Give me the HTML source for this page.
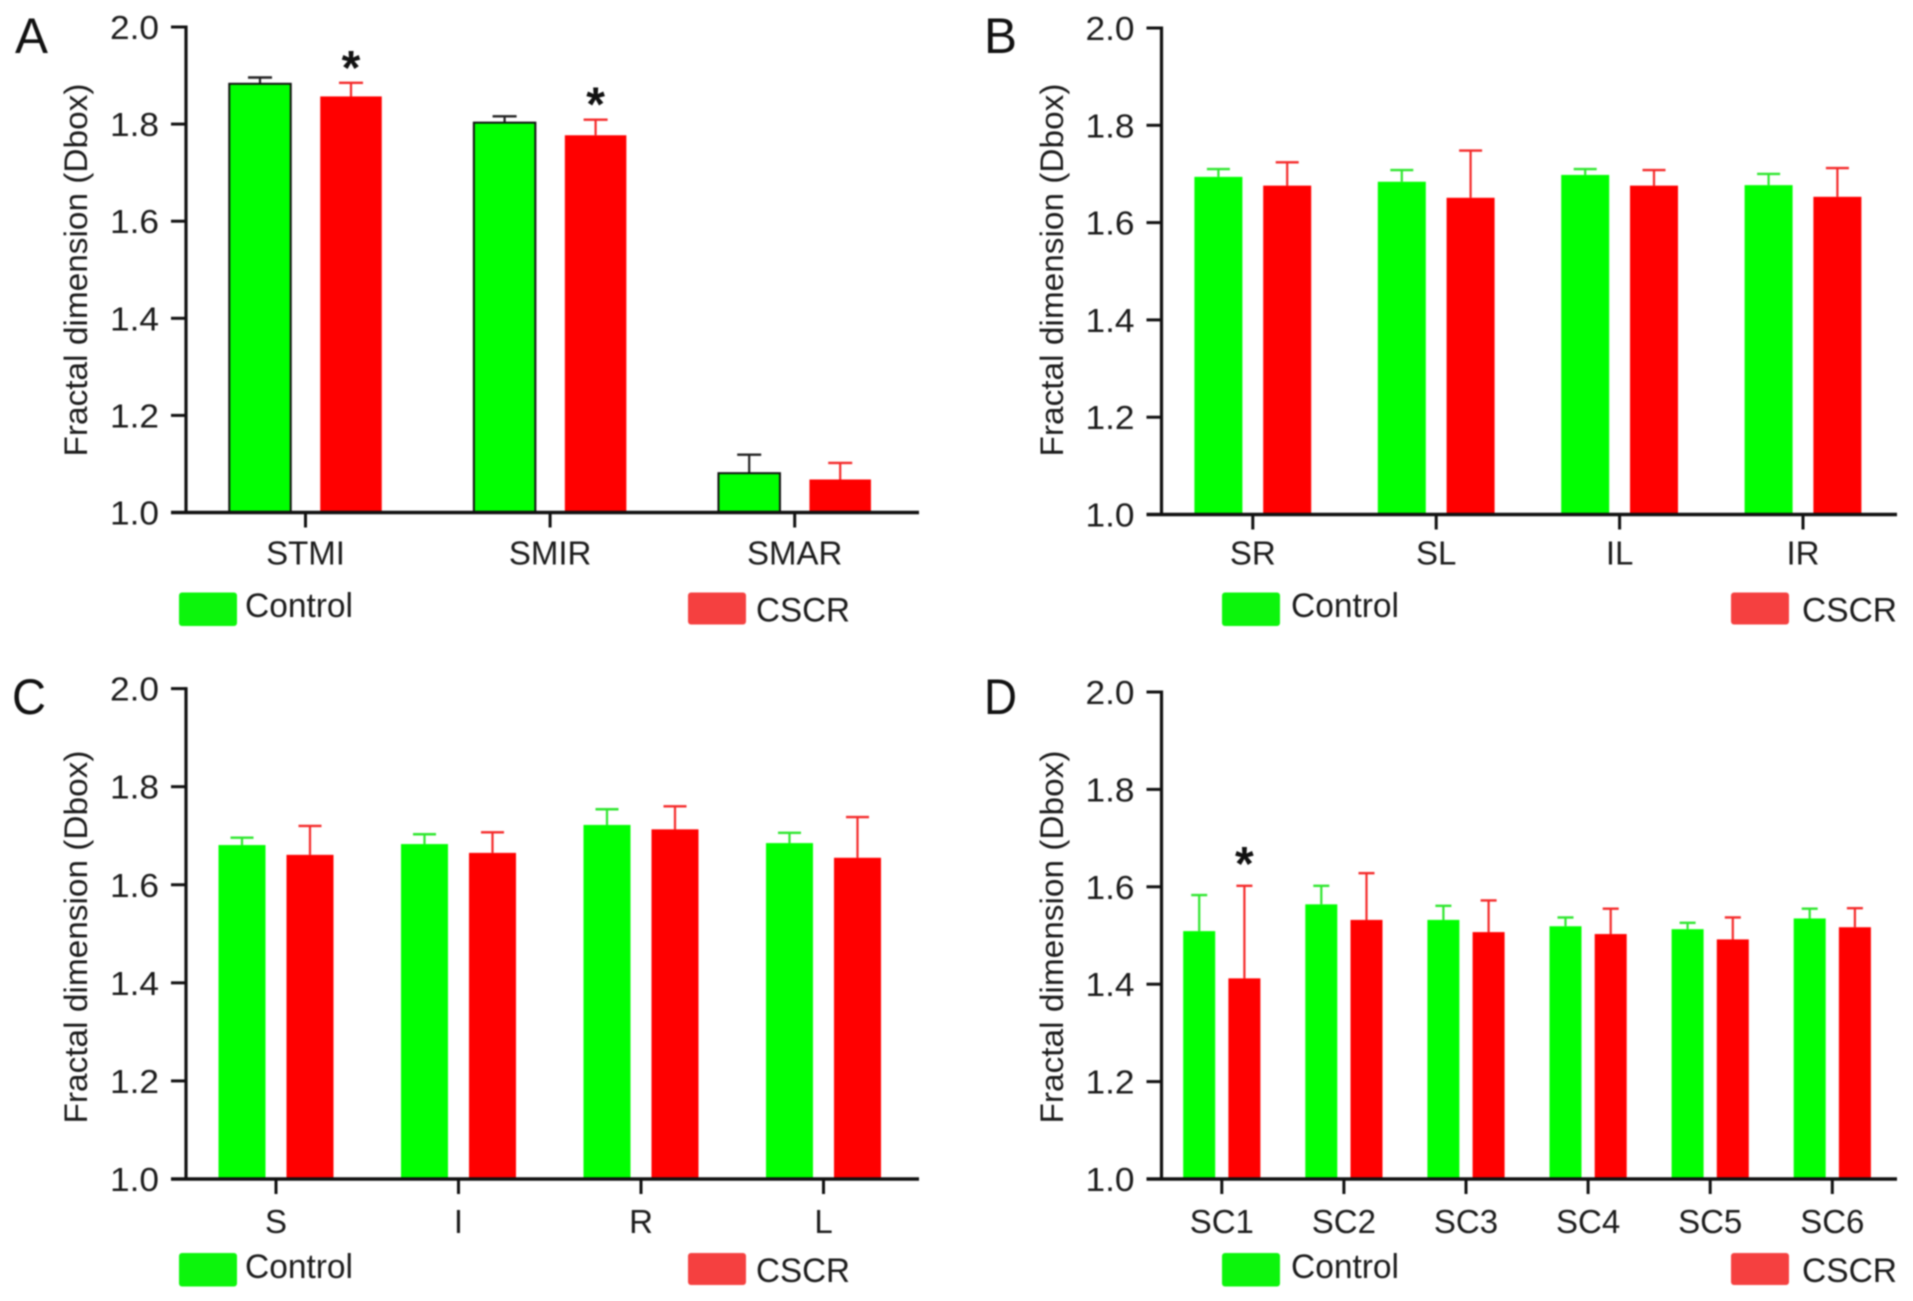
<!DOCTYPE html>
<html lang="en">
<head>
<meta charset="utf-8">
<title>Fractal dimension, Control vs CSCR</title>
<style>
html,body{margin:0;padding:0;background:#fff;}
body{width:1913px;height:1301px;overflow:hidden;}
svg{display:block;filter:blur(.7px);}
text{font-family:"Liberation Sans",sans-serif;fill:#1c1c1c;}
.tick{font-size:33px;}
.title{font-size:32px;}
.legend{font-size:34px;}
.letter{font-size:50px;fill:#111;}
</style>
</head>
<body>
<svg id="figure" xmlns="http://www.w3.org/2000/svg" width="1913" height="1301" viewBox="0 0 1913 1301">
  <rect width="1913" height="1301" fill="#fff"/>

  <g id="panel-a">
    <text class="letter" x="15" y="53" textLength="33" lengthAdjust="spacingAndGlyphs">A</text>
    <text class="title" transform="translate(87 270) rotate(-90)" text-anchor="middle" textLength="373" lengthAdjust="spacingAndGlyphs">Fractal dimension (Dbox)</text>
    <rect x="179" y="592.500" width="58" height="33.500" rx="3" fill="#0cf50c"/>
    <text class="legend" x="245" y="617" textLength="108" lengthAdjust="spacingAndGlyphs">Control</text>
    <rect x="688" y="592.500" width="58" height="32" rx="3" fill="#f54040"/>
    <text class="legend" x="756" y="621.500" textLength="94" lengthAdjust="spacingAndGlyphs">CSCR</text>
  </g>

  <g id="panel-b">
    <text class="letter" x="984" y="53" textLength="33" lengthAdjust="spacingAndGlyphs">B</text>
    <text class="title" transform="translate(1063 270) rotate(-90)" text-anchor="middle" textLength="373" lengthAdjust="spacingAndGlyphs">Fractal dimension (Dbox)</text>
    <rect x="1222" y="592.500" width="58" height="33.500" rx="3" fill="#0cf50c"/>
    <text class="legend" x="1291" y="617" textLength="108" lengthAdjust="spacingAndGlyphs">Control</text>
    <rect x="1731" y="592.500" width="58" height="32" rx="3" fill="#f54040"/>
    <text class="legend" x="1802" y="621.500" textLength="95" lengthAdjust="spacingAndGlyphs">CSCR</text>
  </g>

  <g id="panel-c">
    <text class="letter" x="12" y="714" textLength="34" lengthAdjust="spacingAndGlyphs">C</text>
    <text class="title" transform="translate(87 937) rotate(-90)" text-anchor="middle" textLength="373" lengthAdjust="spacingAndGlyphs">Fractal dimension (Dbox)</text>
    <rect x="179" y="1253" width="58" height="33.500" rx="3" fill="#0cf50c"/>
    <text class="legend" x="245" y="1278" textLength="108" lengthAdjust="spacingAndGlyphs">Control</text>
    <rect x="688" y="1253" width="58" height="32" rx="3" fill="#f54040"/>
    <text class="legend" x="756" y="1282" textLength="94" lengthAdjust="spacingAndGlyphs">CSCR</text>
  </g>

  <g id="panel-d">
    <text class="letter" x="984" y="714" textLength="33" lengthAdjust="spacingAndGlyphs">D</text>
    <text class="title" transform="translate(1063 937) rotate(-90)" text-anchor="middle" textLength="373" lengthAdjust="spacingAndGlyphs">Fractal dimension (Dbox)</text>
    <rect x="1222" y="1253" width="58" height="33.500" rx="3" fill="#0cf50c"/>
    <text class="legend" x="1291" y="1278" textLength="108" lengthAdjust="spacingAndGlyphs">Control</text>
    <rect x="1731" y="1253" width="58" height="32" rx="3" fill="#f54040"/>
    <text class="legend" x="1802" y="1282" textLength="95" lengthAdjust="spacingAndGlyphs">CSCR</text>
  </g>
</svg>

<script>
// Shared axis ticks
const yTickValues = [1.0, 1.2, 1.4, 1.6, 1.8, 2.0];

// Panel A
const categoriesA = ['STMI', 'SMIR', 'SMAR'];
const controlA = [1.883, 1.803, 1.081];
const cscrA = [1.857, 1.777, 1.068];
const controlErrA = [0.013, 0.013, 0.038];
const cscrErrA = [0.028, 0.032, 0.034];
const significantA = [true, true, false];

// Panel B
const categoriesB = ['SR', 'SL', 'IL', 'IR'];
const controlB = [1.694, 1.684, 1.698, 1.677];
const cscrB = [1.676, 1.651, 1.676, 1.653];
const controlErrB = [0.016, 0.024, 0.012, 0.023];
const cscrErrB = [0.048, 0.097, 0.032, 0.059];
const significantB = [false, false, false, false];

// Panel C
const categoriesC = ['S', 'I', 'R', 'L'];
const controlC = [1.681, 1.683, 1.722, 1.685];
const cscrC = [1.661, 1.665, 1.713, 1.655];
const controlErrC = [0.015, 0.020, 0.032, 0.021];
const cscrErrC = [0.059, 0.042, 0.047, 0.083];
const significantC = [false, false, false, false];

// Panel D
const categoriesD = ['SC1', 'SC2', 'SC3', 'SC4', 'SC5', 'SC6'];
const controlD = [1.509, 1.564, 1.532, 1.519, 1.513, 1.535];
const cscrD = [1.412, 1.532, 1.507, 1.503, 1.492, 1.517];
const controlErrD = [0.074, 0.038, 0.029, 0.018, 0.013, 0.020];
const cscrErrD = [0.190, 0.096, 0.065, 0.052, 0.045, 0.039];
const significantD = [true, false, false, false, false, false];

const SVG_NS = 'http://www.w3.org/2000/svg';

function make(tag, parent, props) {
  const el = document.createElementNS(SVG_NS, tag);
  for (const key in props) el.setAttribute(key, props[key]);
  parent.appendChild(el);
  return el;
}

function drawPanel(cfg) {
  const root = document.getElementById(cfg.id);
  const yScale = function (v) {
    return cfg.yBottom + (v - 1.0) * (cfg.yTop - cfg.yBottom) / (2.0 - 1.0);
  };
  const xScale = function (i) {
    return cfg.firstTick + i * cfg.step;
  };

  // Bars and error bars go under the axes
  cfg.categories.forEach(function (cat, i) {
    const series = [
      { key: 'control', val: cfg.control[i], err: cfg.controlErr[i], dx: -cfg.offset, fill: '#00ff00', errColor: cfg.outlineControl ? '#222' : '#2ee62e' },
      { key: 'cscr', val: cfg.cscr[i], err: cfg.cscrErr[i], dx: cfg.offset, fill: '#ff0000', errColor: '#f42a2a' }
    ];
    series.forEach(function (s) {
      const cx = xScale(i) + s.dx;
      const top = yScale(s.val);
      const capY = yScale(s.val + s.err);

      const stem = make('line', root, { x1: cx, x2: cx, y1: top, y2: capY, stroke: s.errColor, 'stroke-width': 2.2 });
      
      

      const cap = make('line', root, { x1: cx - cfg.cap / 2, x2: cx + cfg.cap / 2, y1: capY, y2: capY, stroke: s.errColor, 'stroke-width': 2.4 });
      
      

      const bar = make('rect', root, { x: cx - cfg.barWidth / 2, y: top, width: cfg.barWidth, height: yScale(1.0) - top, fill: s.fill });
      if (cfg.outlineControl && s.key === 'control') {
        bar.setAttribute('stroke', '#111');
        bar.setAttribute('stroke-width', '2');
      }
      
      
    });

    if (cfg.significant[i]) {
      const starX = xScale(i) + cfg.offset;
      const star = make('text', root, { x: starX, y: yScale(cfg.cscr[i] + cfg.cscrErr[i]) + cfg.starGap, 'text-anchor': 'middle', 'font-size': 48, 'font-weight': 'bold' });
      star.textContent = '*';
      star.style.fill = '#111';
      
      
    }
  });

  // Y axis
  const yAxis = make('line', root, { x1: cfg.axisX, x2: cfg.axisX, y1: yScale(2.0) - 1.5, y2: yScale(1.0) + 1.5, stroke: '#111', 'stroke-width': 3.2 });
  
  

  yTickValues.forEach(function (v) {
    const y = yScale(v);
    if (v !== 1.0) {
      const mark = make('line', root, { x1: cfg.axisX - 15, x2: cfg.axisX, y1: y, y2: y, stroke: '#111', 'stroke-width': 3 });
      
      
    }
    const label = make('text', root, { class: 'tick', x: cfg.axisX - 27, y: y + 12, 'text-anchor': 'end', textLength: 49, lengthAdjust: 'spacingAndGlyphs' });
    label.textContent = v.toFixed(1);
    
    
  });

  // X axis
  const xAxis = make('line', root, { x1: cfg.axisX - 15, x2: cfg.axisEnd, y1: yScale(1.0), y2: yScale(1.0), stroke: '#111', 'stroke-width': 3.6 });
  
  

  cfg.categories.forEach(function (cat, i) {
    const x = xScale(i);
    const mark = make('line', root, { x1: x, x2: x, y1: yScale(1.0), y2: yScale(1.0) + 15, stroke: '#111', 'stroke-width': 3 });
    
    

    const label = make('text', root, { class: 'tick', x: x, y: yScale(1.0) + cfg.labelGap, 'text-anchor': 'middle' });
    label.textContent = cat;
    
    
  });
}

drawPanel({ id: 'panel-a', categories: categoriesA, control: controlA, cscr: cscrA, controlErr: controlErrA, cscrErr: cscrErrA, significant: significantA,
  axisX: 186, axisEnd: 919, yTop: 27, yBottom: 512.5, firstTick: 305.5, step: 244.6, offset: 45.5, barWidth: 61.5, cap: 24, labelGap: 52, starGap: 1, outlineControl: true });
drawPanel({ id: 'panel-b', categories: categoriesB, control: controlB, cscr: cscrB, controlErr: controlErrB, cscrErr: cscrErrB, significant: significantB,
  axisX: 1161.5, axisEnd: 1897, yTop: 28, yBottom: 514.5, firstTick: 1252.8, step: 183.4, offset: 34.4, barWidth: 48, cap: 23, labelGap: 50, starGap: 0, outlineControl: false });
drawPanel({ id: 'panel-c', categories: categoriesC, control: controlC, cscr: cscrC, controlErr: controlErrC, cscrErr: cscrErrC, significant: significantC,
  axisX: 186, axisEnd: 919, yTop: 688.6, yBottom: 1179, firstTick: 276, step: 182.5, offset: 34, barWidth: 47, cap: 23, labelGap: 54, starGap: 0, outlineControl: false });
drawPanel({ id: 'panel-d', categories: categoriesD, control: controlD, cscr: cscrD, controlErr: controlErrD, cscrErr: cscrErrD, significant: significantD,
  axisX: 1161.5, axisEnd: 1897, yTop: 692, yBottom: 1179, firstTick: 1221.8, step: 122.1, offset: 22.6, barWidth: 32, cap: 16, labelGap: 54, starGap: -6, outlineControl: false });
</script>
</body>
</html>
